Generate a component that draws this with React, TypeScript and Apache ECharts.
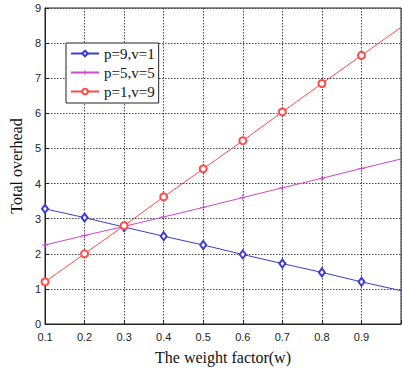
import React, { useEffect, useRef } from "react";
import * as echarts from "echarts";

const weights = [0.1, 0.2, 0.3, 0.4, 0.5, 0.6, 0.7, 0.8, 0.9, 1.0];
const seriesP9V1 = [3.28, 3.03, 2.76, 2.5, 2.25, 1.98, 1.72, 1.47, 1.2, 0.95];
const seriesP5V5 = [2.25, 2.52, 2.78, 3.05, 3.32, 3.6, 3.88, 4.15, 4.43, 4.7];
const seriesP1V9 = [1.2, 2.0, 2.8, 3.62, 4.42, 5.22, 6.04, 6.85, 7.65, 8.45];
const seriesNames = ["p=9,v=1", "p=5,v=5", "p=1,v=9"];
const yTicks = [0, 1, 2, 3, 4, 5, 6, 7, 8, 9];

// the last point (w = 1.0) sits on the cropped right edge, its marker is not visible
const pair = (ys: number[]) =>
  weights.map((w, i) =>
    i === weights.length - 1 ? { value: [w, ys[i]], symbol: "none" } : { value: [w, ys[i]] }
  );

export default function App() {
  const ref = useRef<HTMLDivElement>(null);
  useEffect(() => {
    if (!ref.current) return;
    const chart = echarts.init(ref.current, null, { renderer: "svg" });
    const serif = "Liberation Serif";
    const sans = "Liberation Sans";
    const plus = "path://M4.3,0H5.7V4.3H10V5.7H5.7V10H4.3V5.7H0V4.3H4.3Z";
    const blue = "#3c3cd0";
    const magenta = "#cc48cc";
    const red = "#ff4a4a";
    chart.setOption({
      animation: false,
      backgroundColor: "#ffffff",
      grid: {
        left: 35,
        top: 8,
        right: 0,
        bottom: 38,
        show: true,
        borderColor: "#222",
        borderWidth: 1,
        backgroundColor: "transparent",
      },
      legend: {
        orient: "vertical",
        left: 66,
        top: 43,
        padding: [3, 4, 4, 4],
        itemGap: 4,
        itemWidth: 28,
        itemHeight: 7,
        borderColor: "#222",
        borderWidth: 1,
        backgroundColor: "#fff",
        textStyle: { fontFamily: serif, fontSize: 15, color: "#111" },
        data: seriesNames,
      },
      xAxis: {
        type: "value",
        min: 0.1,
        max: 1.0,
        interval: 0.1,
        name: "The weight factor(w)",
        nameLocation: "middle",
        nameGap: 25,
        nameTextStyle: { fontFamily: serif, fontSize: 16, color: "#111" },
        axisLine: { show: true, lineStyle: { color: "#222", width: 1 } },
        axisTick: { show: true, inside: true, length: 4, lineStyle: { color: "#222" } },
        axisLabel: {
          margin: 7,
          fontFamily: sans,
          fontSize: 11,
          color: "#222",
          formatter: (v: number) => (v > 0.95 ? "" : v.toFixed(1)),
        },
        splitLine: { show: true, lineStyle: { color: "#444", type: [1.5, 1.5], width: 1 } },
      },
      yAxis: {
        type: "value",
        min: 0,
        max: 9,
        interval: 1,
        name: "Total overhead",
        nameLocation: "middle",
        nameGap: 17,
        nameTextStyle: { fontFamily: serif, fontSize: 16, color: "#111" },
        axisLine: { show: true, lineStyle: { color: "#222", width: 1 } },
        axisTick: { show: true, inside: true, length: 4, lineStyle: { color: "#222" } },
        axisLabel: {
          margin: 4,
          fontFamily: sans,
          fontSize: 11,
          color: "#222",
          formatter: (v: number) => (yTicks.includes(v) ? String(v) : ""),
        },
        splitLine: { show: true, lineStyle: { color: "#444", type: [1.5, 1.5], width: 1 } },
      },
      series: [
        {
          name: seriesNames[0],
          type: "line",
          data: pair(seriesP9V1),
          symbol: "emptyDiamond",
          symbolSize: [6, 8],
          lineStyle: { color: blue, width: 1 },
          itemStyle: { color: blue, borderColor: blue, borderWidth: 0.7 },
          z: 3,
        },
        {
          name: seriesNames[1],
          type: "line",
          data: pair(seriesP5V5),
          symbol: plus,
          symbolSize: 6,
          lineStyle: { color: magenta, width: 1 },
          itemStyle: { color: magenta, borderColor: magenta, borderWidth: 0 },
          z: 4,
        },
        {
          name: seriesNames[2],
          type: "line",
          data: pair(seriesP1V9),
          symbol: "emptyCircle",
          symbolSize: 7,
          lineStyle: { color: red, width: 1 },
          itemStyle: { color: red, borderColor: red, borderWidth: 0.7 },
          z: 5,
        },
      ],
    });
    return () => chart.dispose();
  }, []);
  return (
    <div style={{ position: "absolute", left: 0, top: 0, width: 402, height: 370, overflow: "hidden", background: "#fff" }}>
      <div ref={ref} style={{ width: 404, height: 370 }} />
    </div>
  );
}
